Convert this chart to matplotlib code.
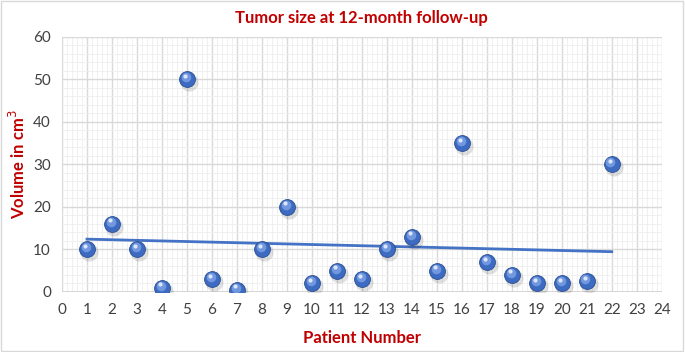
import numpy as np
import matplotlib.pyplot as plt
from matplotlib.patches import Rectangle
from matplotlib.ticker import MultipleLocator

# patient number vs. tumor volume (cm^3) at 12 months
patients = [1, 2, 3, 4, 5, 6, 7, 8, 9, 10, 11, 12, 13, 14, 15, 16, 17, 18, 19, 20, 21, 22]
volume = [10, 16, 10, 1, 50, 3, 0.5, 10, 20, 2, 5, 3, 10, 13, 5, 35, 7, 4, 2, 2, 2.5, 30]

plt.rcParams['font.family'] = ['Lato', 'DejaVu Sans']

fig = plt.figure(figsize=(6.85, 3.52), dpi=100)
ax = fig.add_axes([0.0905, 0.1705, 0.8755, 0.7245])

x = np.array(patients)
y = np.array(volume)

# linear trendline
k, b = np.polyfit(x, y, 1)
ax.plot([x.min(), x.max()], [k * x.min() + b, k * x.max() + b], color='#4472C4', lw=2, zorder=3)

# fake 3d spheres: shadow, body, highlight
ax.scatter(x + 0.08, y - 0.7, s=170, color='#000000', alpha=0.12, lw=0, zorder=4)
ax.scatter(x, y, s=130, color='#3D6BC2', edgecolors='#2A4E90', linewidths=0.6, zorder=5)
ax.scatter(x - 0.05, y + 0.5, s=48, color='#7FA3E6', lw=0, alpha=0.8, zorder=6)
ax.scatter(x - 0.07, y + 0.85, s=9, color='#DCE6FA', lw=0, zorder=7)

ax.set_xlim(0, 24)
ax.set_ylim(0, 60)
ax.xaxis.set_major_locator(MultipleLocator(1))
ax.xaxis.set_minor_locator(MultipleLocator(0.2))
ax.yaxis.set_major_locator(MultipleLocator(10))
ax.yaxis.set_minor_locator(MultipleLocator(2))
ax.grid(which='major', color='#d9d9d9', lw=1.0)
ax.grid(which='minor', color='#eeeeee', lw=0.6)
ax.set_axisbelow(True)
for s in ax.spines.values():
    s.set_visible(False)
ax.axhline(0, color='#d0d0d0', lw=1.2, zorder=1)
ax.tick_params(which='both', length=0, labelsize=11, colors='#404040', pad=8)

ax.set_title('Tumor size at 12-month follow-up', color='#C00000', fontsize=12,
             fontweight='bold', pad=10)
ax.set_xlabel('Patient Number', color='#C00000', fontsize=12, fontweight='bold', labelpad=9)
ax.set_ylabel('Volume in cm$^3$', color='#C00000', fontsize=12, fontweight='bold', labelpad=4)

fig.patches.append(Rectangle((0.002, 0.003), 0.995, 0.994, transform=fig.transFigure,
                             fill=False, edgecolor='#d9d9d9', lw=1))

fig.savefig('out.png', dpi=100)
